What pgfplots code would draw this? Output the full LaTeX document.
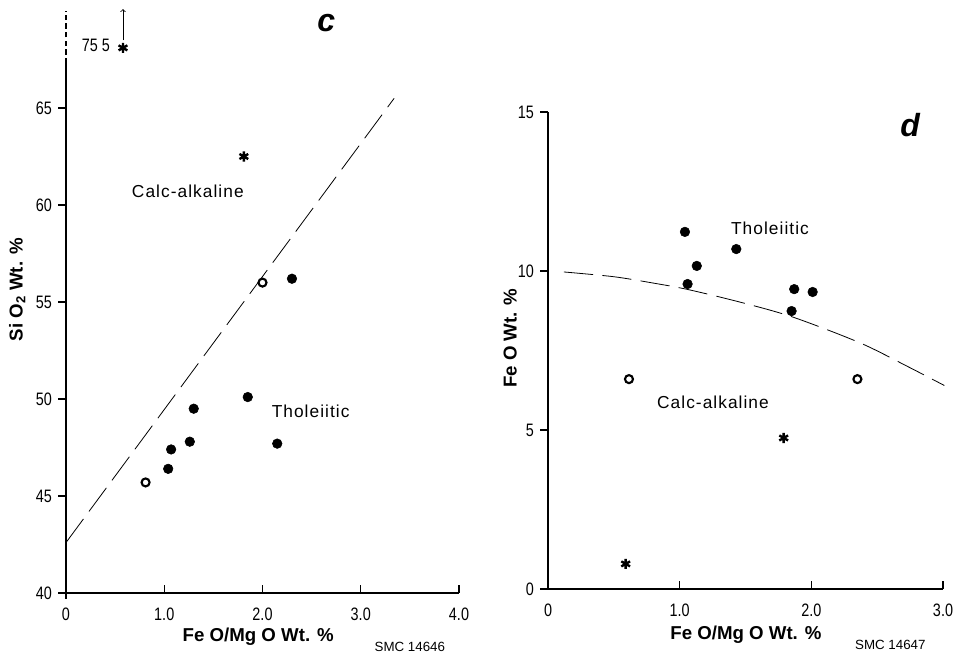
\documentclass[border=0pt]{standalone}
\usepackage{fontspec}
\setmainfont{Liberation Sans}
\newfontfamily\cond[FakeStretch=0.8]{Liberation Sans}
\usepackage{pgfplots}
\pgfplotsset{compat=1.18}
\pgfplotsset{
 myax/.style={
  scale only axis,
  axis x line=bottom, axis y line=left,
  axis line style={-, line width=1pt},
  enlargelimits=false,
  clip=false,
  tick style={black, line width=0.8pt},
  major tick length=6pt,
  xtick align=inside, ytick align=outside,
  /pgf/number format/assume math mode=true,
  ticklabel style={font=\cond\fontsize{13.5}{13.5}\selectfont},
  xticklabel style={yshift=-7.5pt},
  yticklabel style={xshift=-1pt},
  xlabel style={font=\bfseries\fontsize{14}{14}\selectfont, anchor=center},
  ylabel style={font=\bfseries\fontsize{14}{14}\selectfont, anchor=center},
 },
 filled/.style={only marks, mark=*, mark size=3.6pt, black},
 open/.style={only marks, mark=o, mark size=3.0pt, black, line width=1.6pt},
 starm/.style={only marks, mark=asterisk, mark size=3.8pt, black, line width=1.8pt},
}
\tikzset{
 lbl/.style={font=\fontsize{13}{13}\selectfont\addfontfeature{LetterSpace=6}},
 big/.style={font=\bfseries\itshape\fontsize{24}{24}\selectfont},
 smc/.style={font=\fontsize{10}{10}\selectfont},
}
\begin{document}
\begin{tikzpicture}
\path[use as bounding box] (0,0) rectangle (720pt,490.5pt);
% ---------- panel c ----------
\begin{axis}[myax,
  at={(49.5pt,45.75pt)}, anchor=south west,
  width=294.75pt, height=436.5pt,
  xmin=0, xmax=4, ymin=40, ymax=70,
  xtick={0,1,2,3,4}, xticklabels={0,1.0,2.0,3.0,4.0},
  ytick={40,45,50,55,60,65},
  y axis line style={draw=none},
  xlabel={Fe O/Mg O Wt. \%},
  ylabel={Si O\textsubscript{2} Wt. \%},
  xlabel style={at={(axis description cs:0.489,-0.0756)}},
  ylabel style={at={(axis description cs:-0.124,0.521)}},
]
\draw[line width=1pt] (axis cs:0,39.7) -- (axis cs:0,67.3);
\draw[line width=0.8pt, dash pattern=on 4pt off 2.5pt] (axis cs:0,67.3) -- (axis cs:0,70);
\addplot[black, line width=0.6pt, dash pattern=on 22pt off 7pt] coordinates {(0,42.6) (3.34,65.5)};
\addplot[filled] coordinates {(2.30,56.2) (1.85,50.1) (1.30,49.5) (1.26,47.8) (2.15,47.7) (1.07,47.4) (1.04,46.4)};
\addplot[open] coordinates {(2.00,56.0) (0.81,45.7)};
\addplot[starm] coordinates {(1.81,62.5) (0.58,68.1)};
\draw[->, line width=0.6pt] (axis cs:0.58,68.5) -- (axis cs:0.58,70.1);
\node[font=\cond\fontsize{13.5}{13.5}\selectfont] at (axis cs:0.305,68.25) {75 5};
\node[lbl] at (axis cs:1.24,60.72) {Calc-alkaline};
\node[lbl] at (axis cs:2.49,49.38) {Tholeiitic};
\node[big] at (axis cs:2.65,69.4) {c};
\node[smc] at (axis cs:3.50,37.2) {SMC 14646};
\end{axis}
% ---------- panel d ----------
\begin{axis}[myax,
  at={(411pt,48.75pt)}, anchor=south west,
  width=296.25pt, height=357.75pt,
  xmin=0, xmax=3, ymin=0, ymax=15,
  xtick={0,1,2,3}, xticklabels={0,1.0,2.0,3.0},
  ytick={0,5,10,15},
  xlabel={Fe O/Mg O Wt. \%},
  ylabel={Fe O Wt. \%},
  xlabel style={at={(axis description cs:0.501,-0.0964)}},
  ylabel style={at={(axis description cs:-0.096,0.526)}},
]
\addplot[black, line width=0.6pt, dash pattern=on 22pt off 7pt, smooth] coordinates {(0.12,9.97) (0.5,9.82) (0.8,9.62) (1.06,9.42) (1.46,9.02) (1.86,8.55) (2.37,7.74) (2.73,7.0) (3.01,6.4)};
\addplot[filled] coordinates {(1.04,11.23) (1.43,10.69) (1.13,10.16) (1.06,9.59) (1.87,9.43) (2.01,9.34) (1.85,8.74)};
\addplot[open] coordinates {(0.615,6.6) (2.35,6.6)};
\addplot[starm] coordinates {(0.59,0.79) (1.79,4.75)};
\node[lbl] at (axis cs:1.686,11.35) {Tholeiitic};
\node[lbl] at (axis cs:1.253,5.88) {Calc-alkaline};
\node[big] at (axis cs:2.75,14.6) {d};
\node[smc] at (axis cs:2.60,-1.76) {SMC 14647};
\end{axis}
\end{tikzpicture}
\end{document}
